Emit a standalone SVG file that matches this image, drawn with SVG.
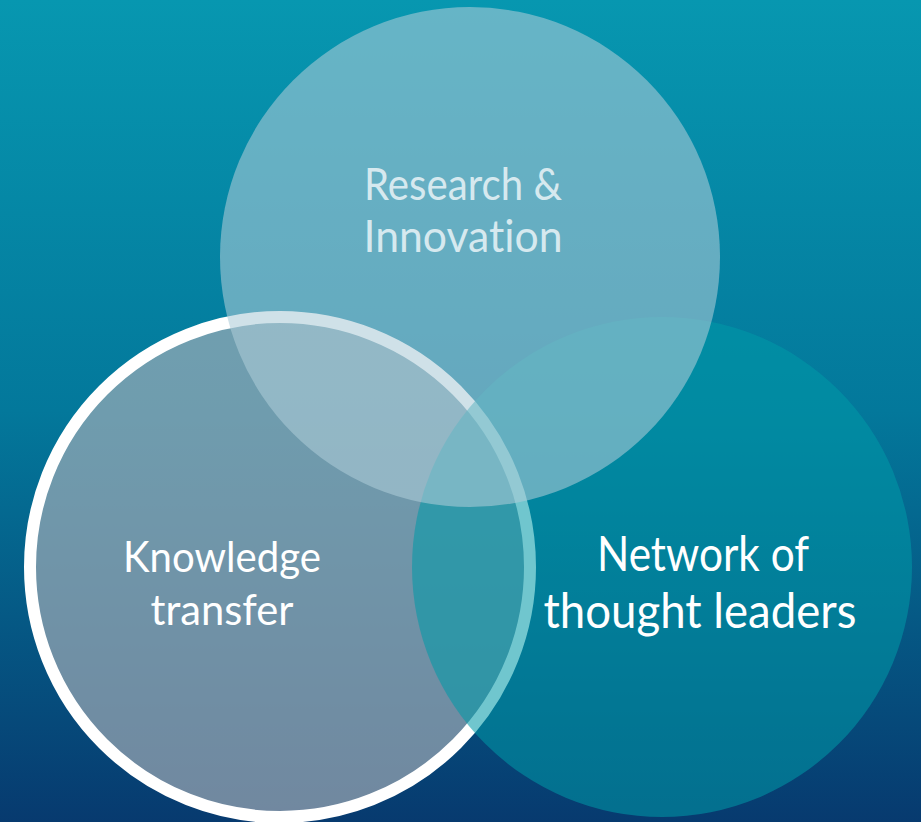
<svg xmlns="http://www.w3.org/2000/svg" width="921" height="822" viewBox="0 0 921 822">
  <defs>
    <linearGradient id="bg" x1="0" y1="0" x2="0" y2="1">
      <stop offset="0" stop-color="#0797b0"/>
      <stop offset="0.5" stop-color="#03789b"/>
      <stop offset="1" stop-color="#073a6f"/>
    </linearGradient>
  </defs>
  <style>
    .lbl { font-family: Lato, "Open Sans", "Liberation Sans", sans-serif; font-weight: 400; text-anchor: middle; font-variant-ligatures: none; font-feature-settings: "liga" 0, "dlig" 0; }
  </style>
  <rect x="0" y="0" width="921" height="822" fill="url(#bg)"/>
  <g id="knowledge-transfer">
    <circle cx="280" cy="567" r="250" fill="rgb(166,174,183)" fill-opacity="0.67" stroke="#ffffff" stroke-width="12"/>
  </g>
  <g id="network">
    <circle cx="662" cy="567" r="250" fill="rgb(0,153,168)" fill-opacity="0.56"/>
  </g>
  <g id="research-innovation">
    <circle cx="470" cy="257" r="250" fill="rgb(173,204,216)" fill-opacity="0.58"/>
  </g>
  <g id="connectors"/>
  <g id="labels">
    <text class="lbl" x="463" y="200" font-size="44" fill="#d6e9ef" textLength="198" lengthAdjust="spacingAndGlyphs">Research &amp;</text>
    <text class="lbl" x="463" y="252" font-size="44" fill="#d6e9ef" textLength="199" lengthAdjust="spacingAndGlyphs">Innovation</text>
    <text class="lbl" x="222" y="572" font-size="43" fill="#ffffff" textLength="198" lengthAdjust="spacingAndGlyphs">Knowledge</text>
    <text class="lbl" x="222" y="625" font-size="43" fill="#ffffff" textLength="143" lengthAdjust="spacingAndGlyphs">transfer</text>
    <text class="lbl" x="703" y="571" font-size="48" fill="#ffffff" textLength="212" lengthAdjust="spacingAndGlyphs">Network of</text>
    <text class="lbl" x="700" y="628" font-size="48" fill="#ffffff" textLength="313" lengthAdjust="spacingAndGlyphs">thought leaders</text>
  </g>
</svg>
